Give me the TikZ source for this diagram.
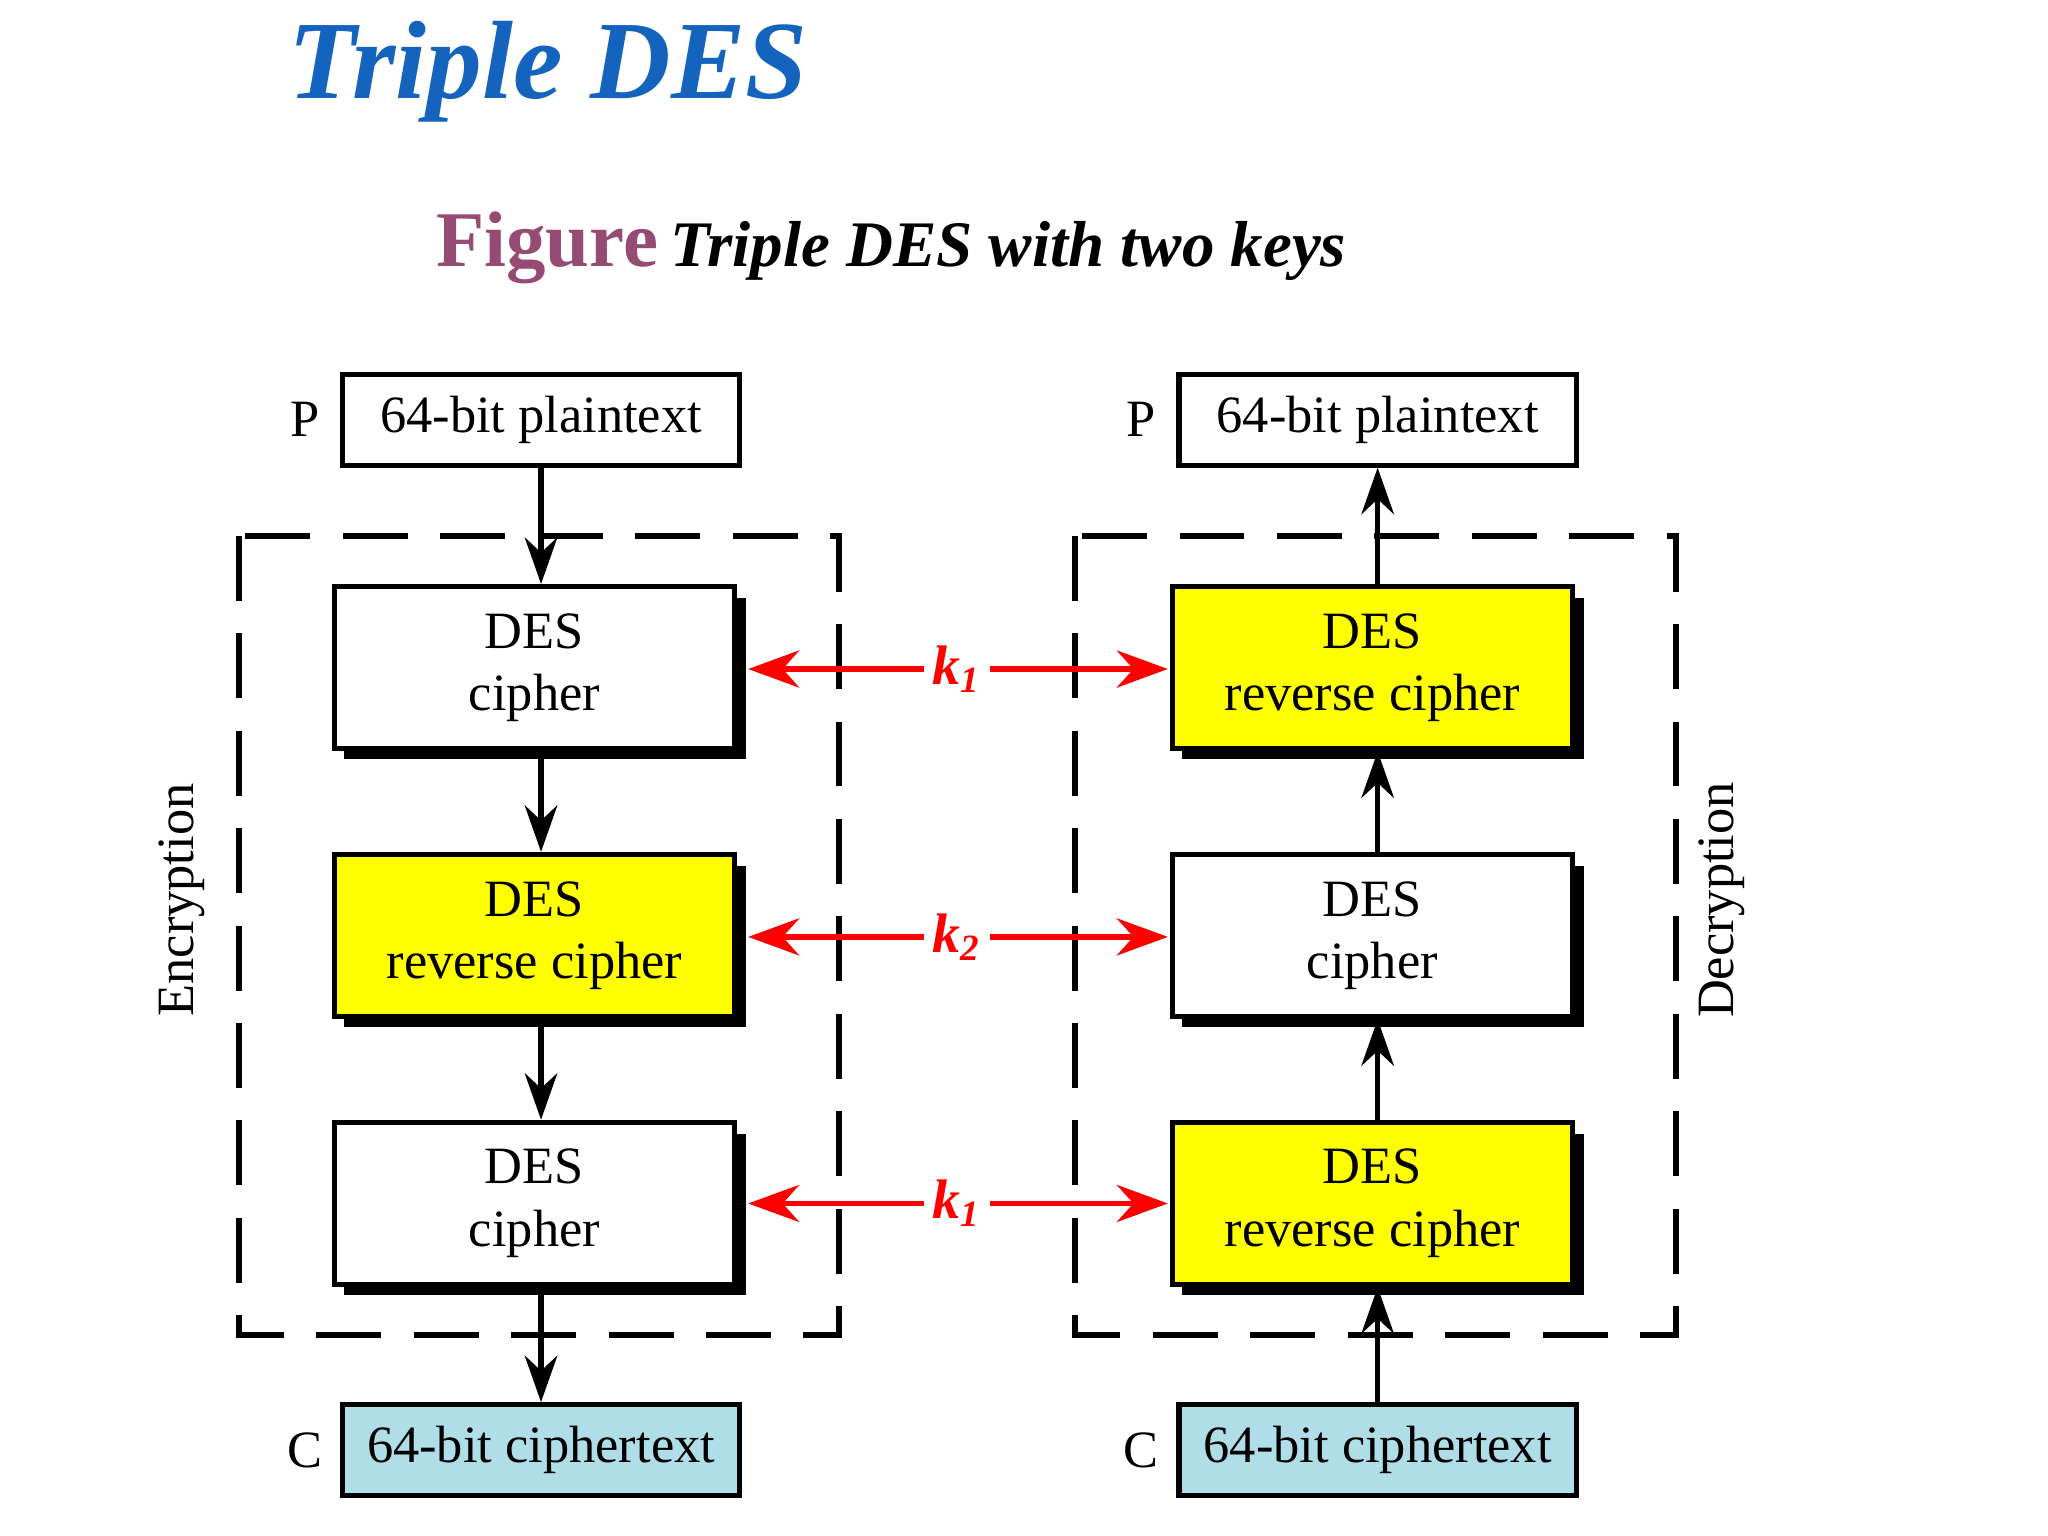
\documentclass[tikz,border=0pt]{standalone}
\usepackage{fontspec}
\setmainfont{Liberation Serif}
\usetikzlibrary{arrows.meta}
\definecolor{tblue}{RGB}{20,100,190}
\definecolor{plum}{RGB}{150,75,115}
\definecolor{dyel}{RGB}{255,255,0}
\definecolor{lblue}{RGB}{175,222,232}
\begin{document}
\begin{tikzpicture}[x=0.01cm,y=-0.01cm,
  txt/.style={font=\fontsize{11.3}{13.5}\selectfont},
  iobox/.style={draw,line width=1.1pt,minimum width=3.01cm,minimum height=0.69cm,txt,inner sep=0pt},
  desbox/.style={draw,line width=1.1pt,minimum width=3.03cm,minimum height=1.23cm,txt,align=center,inner sep=0pt},
  blk/.style={-{Stealth[length=10pt,width=7pt]},line width=1.2pt},
  redarr/.style={draw=red,-{Stealth[length=11pt,width=8pt]},line width=1.2pt},
  dashbox/.style={dash pattern=on 14pt off 7pt,line width=1.3pt},
  kl/.style={text=red,font=\fontsize{12}{14}\selectfont\bfseries\itshape}]
\useasboundingbox (0,0) rectangle (1552,1164);
\node[anchor=base west,text=tblue,font=\fontsize{24}{28}\selectfont\bfseries\itshape,inner sep=0] (title) at (218,75) {Triple DES};
\node[anchor=base west,inner sep=0] (cap) at (330,202) {{\color{plum}\fontsize{17}{20}\selectfont\bfseries Figure} {\fontsize{14}{17}\selectfont\bfseries\itshape Triple DES with two keys}};
\draw[dashbox] (181,406) rectangle (636,1012);
\draw[dashbox] (815,406) rectangle (1270,1012);
\node[rotate=90,txt] (enc) at (138,682) {Encryption};
\node[rotate=90,txt] (dec) at (1305,682) {Decryption};
% shadows
\foreach \x/\y in {405/506,405/709,405/912,1040/506,1040/709,1040/912}{
  \fill (\x-144,\y-53) rectangle (\x+160,\y+69);
}
% left
\node[iobox] (lp) at (410,318) {64-bit plaintext};
\node[txt] (lP) at (231,318) {P};
\node[desbox,fill=white] (l1) at (405,506) {DES\\cipher};
\node[desbox,fill=dyel] (l2) at (405,709) {DES\\reverse cipher};
\node[desbox,fill=white] (l3) at (405,912) {DES\\cipher};
\node[iobox,fill=lblue] (lc) at (410,1099) {64-bit ciphertext};
\node[txt] (lC) at (231,1099) {C};
% right
\node[iobox] (rp) at (1044,318) {64-bit plaintext};
\node[txt] (rP) at (865,318) {P};
\node[desbox,fill=dyel] (r1) at (1040,506) {DES\\reverse cipher};
\node[desbox,fill=white] (r2) at (1040,709) {DES\\cipher};
\node[desbox,fill=dyel] (r3) at (1040,912) {DES\\reverse cipher};
\node[iobox,fill=lblue] (rc) at (1044,1099) {64-bit ciphertext};
\node[txt] (rC) at (865,1099) {C};
% black arrows
\draw[blk] (lp.south) -- (lp.south |- l1.north);
\draw[blk] (lp.south |- l1.south) -- (lp.south |- l2.north);
\draw[blk] (lp.south |- l2.south) -- (lp.south |- l3.north);
\draw[blk] (lp.south |- l3.south) -- (lc.north);
\draw[blk] (rc.north) -- (rc.north |- r3.south);
\draw[blk] (rc.north |- r3.north) -- (rc.north |- r2.south);
\draw[blk] (rc.north |- r2.north) -- (rc.north |- r1.south);
\draw[blk] (rc.north |- r1.north) -- (rp.south);
% keys
\foreach \n/\k/\y in {a/1/507,b/2/710,c/1/912}{
  \node[kl,inner sep=0] (k\n) at (725,\y) {k\textsubscript{\k}};
  \draw[redarr] (k\n.west) ++(-6,0) -- (567,\y);
  \draw[redarr] (k\n.east) ++(6,0) -- (885,\y);
}
\end{tikzpicture}
\end{document}
